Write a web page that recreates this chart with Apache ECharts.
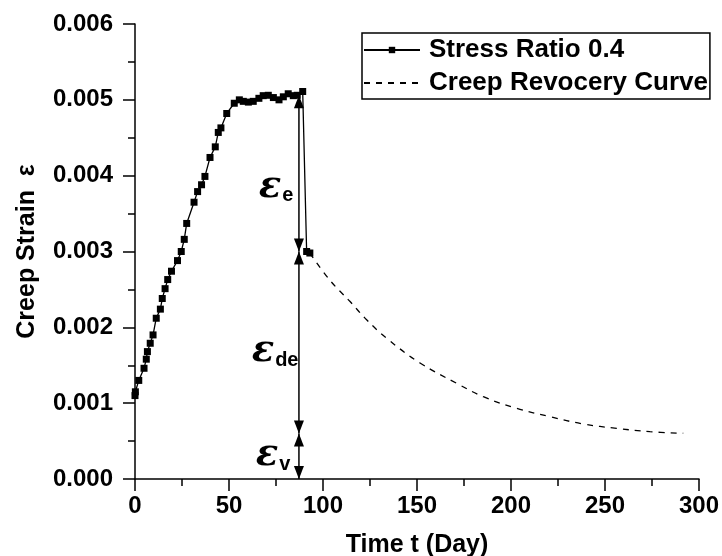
<!DOCTYPE html>
<html>
<head>
<meta charset="utf-8">
<script src="https://cdn.jsdelivr.net/npm/echarts@6/dist/echarts.min.js"></script>
<style>html,body{margin:0;padding:0;background:#fff}#c{width:722px;height:556px}</style>
</head>
<body>
<div id="c"></div>
<script>
// Data (strain values in units of 1e-3)
const creepDays = [0, 0.2, 2.0, 4.8, 6.0, 6.6, 8.1, 9.6, 11.3, 13.5, 14.5, 16.0, 17.4, 19.4, 22.6, 24.6, 26.2, 27.5, 31.4, 33.3, 35.4, 37.2, 39.9, 42.7, 44.3, 45.7, 48.8, 52.8, 55.5, 57.6, 60.3, 62.9, 65.9, 68.2, 70.9, 73.6, 76.6, 78.9, 81.5, 84.2, 86.3, 89.2, 91.3, 93.0];
const creepStrain = [1.10, 1.15, 1.30, 1.46, 1.58, 1.68, 1.79, 1.90, 2.12, 2.24, 2.38, 2.51, 2.63, 2.74, 2.88, 3.00, 3.16, 3.37, 3.65, 3.79, 3.88, 3.99, 4.24, 4.38, 4.57, 4.63, 4.82, 4.955, 5.00, 4.98, 4.97, 4.98, 5.02, 5.055, 5.06, 5.03, 5.00, 5.04, 5.08, 5.055, 5.06, 5.11, 3.00, 2.98];
const recoveryDays = [93.0, 103.7, 114.4, 123.2, 133.9, 151.6, 171.1, 185.3, 203.0, 220.7, 238.5, 256.2, 273.9, 291.6];
const recoveryStrain = [2.98, 2.62, 2.34, 2.10, 1.855, 1.53, 1.262, 1.085, 0.932, 0.822, 0.725, 0.668, 0.624, 0.603];
const seriesNames = ['Stress Ratio 0.4', 'Creep Revocery Curve'];
const xTicks = [0, 50, 100, 150, 200, 250, 300];
const yTicks = [0, 0.001, 0.002, 0.003, 0.004, 0.005, 0.006];
// Strain component arrows (day, levels)
const arrowDay = 87.2;
const arrowLevels = [5.06, 3.00, 0.60, 0.00];
const compLabels = ['e', 'de', 'v'];
const compLabelDays = [75.0, 74.5, 73.5];
const compLabelStrain = [3.85, 1.68, 0.31];

const scale = 1e-3;
const creepData = creepDays.map((d, i) => [d, creepStrain[i] * scale]);
const recData = recoveryDays.map((d, i) => [d, recoveryStrain[i] * scale]);

const arrowSegs = [];
for (let i = 0; i < arrowLevels.length - 1; i++) arrowSegs.push([arrowDay, arrowLevels[i] * scale, arrowLevels[i + 1] * scale]);
const labelData = compLabels.map((s, i) => [compLabelDays[i], compLabelStrain[i] * scale, s]);

const FONT = 'Liberation Sans, Arial, sans-serif';
const chart = echarts.init(document.getElementById('c'), null, {renderer: 'canvas'});
chart.setOption({
  animation: false,
  backgroundColor: '#fff',
  grid: {left: 135, right: 23, top: 24, bottom: 77, containLabel: false, outerBoundsMode: 'none'},
  legend: {
    data: [
      {name: seriesNames[0]},
      {name: seriesNames[1], itemStyle: {color: 'rgba(0,0,0,0)', borderWidth: 0, opacity: 0}}
    ],
    orient: 'vertical',
    left: 362, top: 33,
    itemWidth: 56, itemHeight: 8, itemGap: 7,
    padding: [4, 2, 3, 1],
    borderColor: '#000', borderWidth: 1.5, borderRadius: 0,
    textStyle: {fontFamily: FONT, fontWeight: 'bold', fontSize: 26, color: '#000', padding: [0, 0, 0, 4]},
    selectedMode: false
  },
  xAxis: {
    type: 'value', min: 0, max: 300, interval: 50,
    name: 'Time t (Day)', nameLocation: 'middle', nameGap: 54,
    nameTextStyle: {fontFamily: FONT, fontWeight: 'bold', fontSize: 25, color: '#000'},
    axisLine: {lineStyle: {color: '#000', width: 1.5}},
    axisTick: {inside: false, length: 12, lineStyle: {color: '#000', width: 1.5}},
    minorTick: {show: true, splitNumber: 2, length: 7, lineStyle: {color: '#000', width: 1.5}},
    splitLine: {show: false},
    axisLabel: {margin: 15, fontFamily: FONT, fontWeight: 'bold', fontSize: 24, color: '#000'}
  },
  yAxis: {
    type: 'value', min: 0, max: 0.006, interval: 0.001,
    name: 'Creep Strain  \u03b5', nameLocation: 'middle', nameGap: 95, nameRotate: 90,
    nameTextStyle: {fontFamily: FONT, fontWeight: 'bold', fontSize: 25, color: '#000'},
    axisLine: {show: true, lineStyle: {color: '#000', width: 1.5}},
    axisTick: {show: true, inside: false, length: 12, lineStyle: {color: '#000', width: 1.5}},
    minorTick: {show: true, splitNumber: 2, length: 7, lineStyle: {color: '#000', width: 1.5}},
    splitLine: {show: false},
    axisLabel: {margin: 22, fontFamily: FONT, fontWeight: 'bold', fontSize: 24, color: '#000',
      formatter: v => v.toFixed(3)}
  },
  series: [
    {
      name: seriesNames[0], type: 'line', data: creepData,
      symbol: 'rect', symbolSize: 7, showSymbol: true,
      itemStyle: {color: '#000'},
      lineStyle: {color: '#000', width: 1.3},
      z: 3
    },
    {
      name: seriesNames[1], type: 'line', data: recData,
      symbol: 'none', smooth: 0.4,
      itemStyle: {color: '#000'},
      lineStyle: {color: '#000', width: 1.3, type: [6, 6]},
      z: 2
    },
    {
      type: 'custom', name: 'arrows', data: arrowSegs, silent: true, z: 4,
      renderItem: function (params, api) {
        const p0 = api.coord([api.value(0), api.value(1)]);
        const p1 = api.coord([api.value(0), api.value(2)]);
        const w = 5, h = 13;
        return {
          type: 'group',
          children: [
            {type: 'line', shape: {x1: p0[0], y1: p0[1], x2: p1[0], y2: p1[1]}, style: {stroke: '#000', lineWidth: 1.5}},
            {type: 'polygon', shape: {points: [[p0[0], p0[1]], [p0[0] - w, p0[1] + h], [p0[0] + w, p0[1] + h]]}, style: {fill: '#000'}},
            {type: 'polygon', shape: {points: [[p1[0], p1[1]], [p1[0] - w, p1[1] - h], [p1[0] + w, p1[1] - h]]}, style: {fill: '#000'}}
          ]
        };
      }
    },
    {
      type: 'custom', name: 'labels', data: labelData, silent: true, z: 5,
      renderItem: function (params, api) {
        const p = api.coord([api.value(0), api.value(1)]);
        const sub = labelData[params.dataIndex][2];
        return {
          type: 'text',
          x: p[0], y: p[1],
          style: {
            text: '{a|\u03b5}{b|' + sub + '}',
            align: 'center', verticalAlign: 'middle',
            rich: {
              a: {fontFamily: 'DejaVu Serif, serif', fontStyle: 'italic', fontWeight: 'bold', fontSize: 37, fill: '#000', verticalAlign: 'bottom'},
              b: {fontFamily: FONT, fontWeight: 'bold', fontSize: 20, fill: '#000', verticalAlign: 'bottom', padding: [0, 0, 0, 1]}
            }
          }
        };
      }
    }
  ]
});
</script>
</body>
</html>
